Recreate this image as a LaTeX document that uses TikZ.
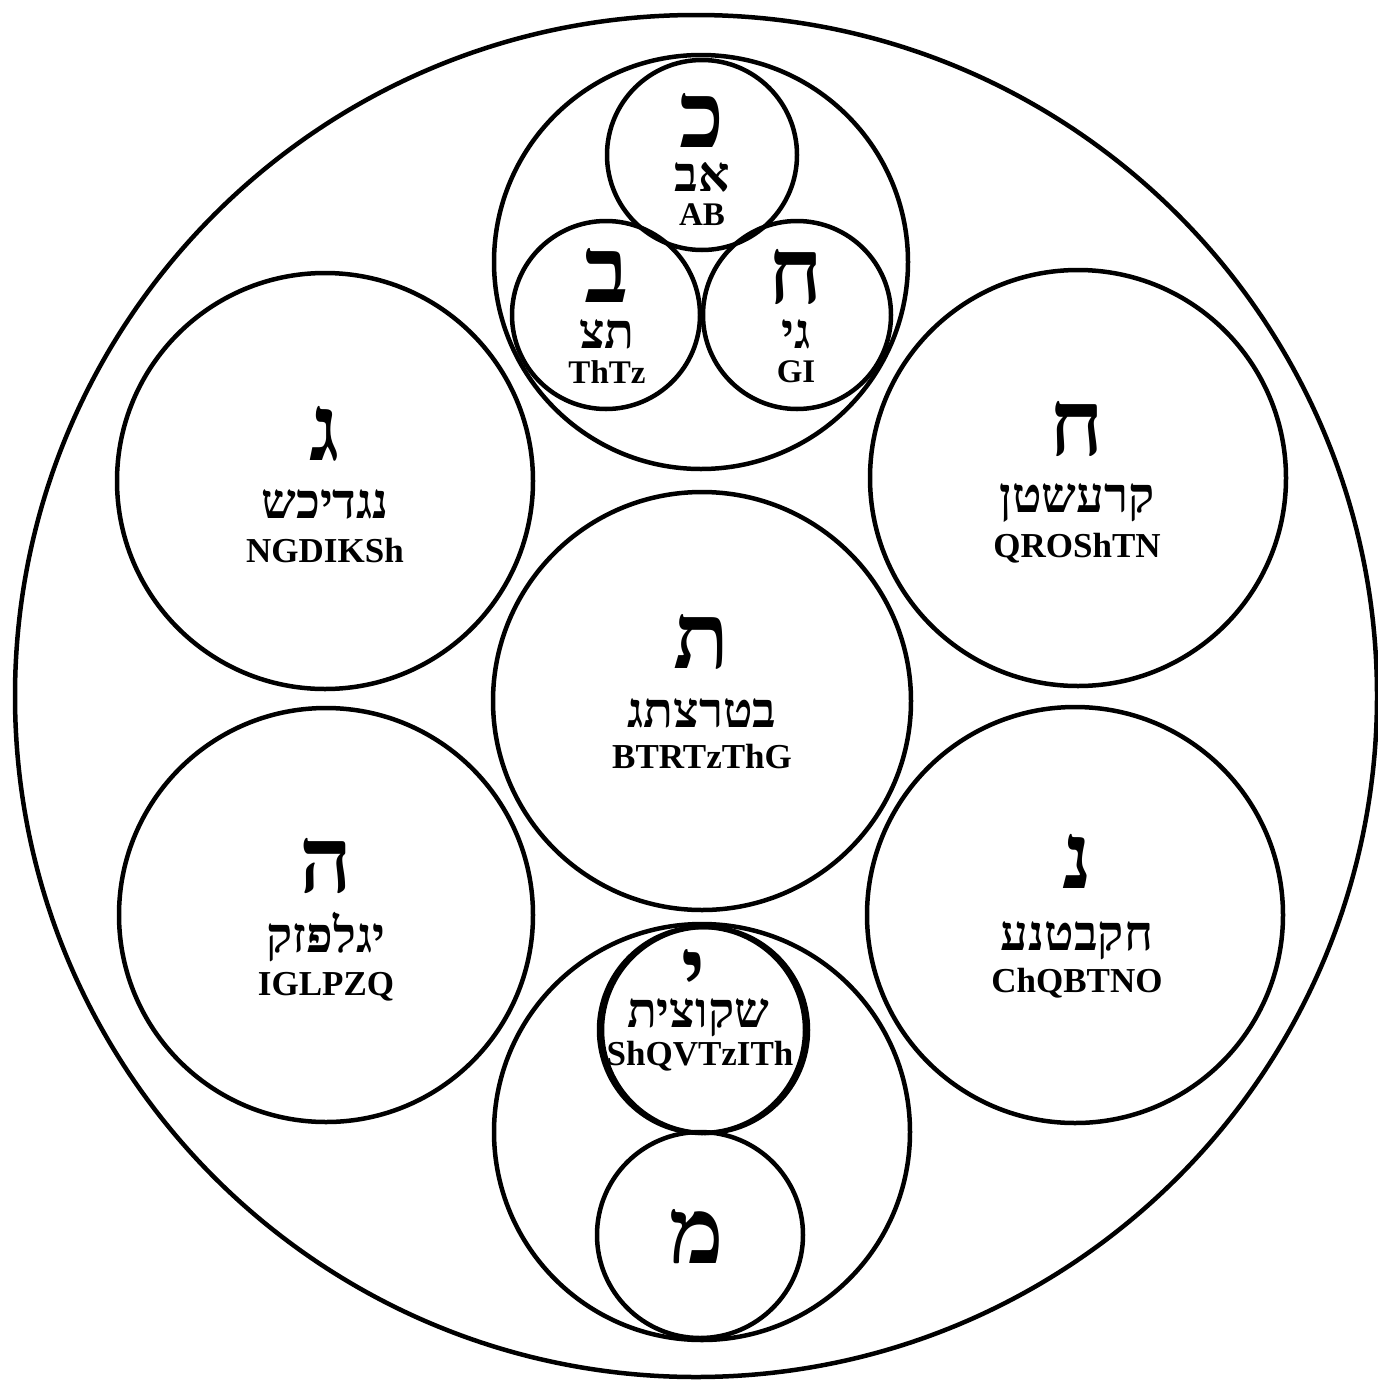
\documentclass[tikz,border=0pt]{standalone}
\usepackage{fontspec}
\setmainfont{Liberation Serif}
\newfontfamily\hebfont[Script=Hebrew]{Liberation Serif}
\TeXXeTstate=1
\begin{document}
\begin{tikzpicture}[x=1pt,y=-1pt,
  ring/.style={circle,draw,line width=4.5pt,inner sep=0pt,minimum size=#1},
  bigletter/.style={anchor=base,inner sep=0pt,text height=60pt,text depth=0pt,font=\hebfont\bfseries\fontsize{92}{92}\selectfont},
  hword/.style={anchor=base,inner sep=0pt,text height=30pt,text depth=2pt,font=\hebfont\bfseries\fontsize{49}{49}\selectfont},
  latin/.style={anchor=base,inner sep=0pt,text height=25pt,text depth=1pt,font=\bfseries\fontsize{35}{35}\selectfont},
  smalllatin/.style={anchor=base,inner sep=0pt,text height=23pt,text depth=1pt,font=\bfseries\fontsize{33}{33}\selectfont}]
\useasboundingbox (0,0) rectangle (1378,1384);
\fill[white] (0,0) rectangle (1378,1384);
% circles
\node[ring=1362] (outer) at (696,696) {};
\node[ring=414] (topgrp) at (701,262) {};
\node[ring=190] (ckaf) at (702,155) {};
\node[ring=188] (cbet) at (606,315) {};
\node[ring=188] (chet) at (797,315) {};
\node[ring=416] (cgimel) at (325,481) {};
\node[ring=416] (cchet) at (1078,478) {};
\node[ring=418] (ctav) at (702,701) {};
\node[ring=414] (che) at (326,915) {};
\node[ring=416] (cnun) at (1075,915) {};
\node[ring=416] (botgrp) at (702,1132) {};
\node[ring=206] (cyod) at (702,1030) {};
\node[ring=206] (cyodb) at (705,1030) {};
\node[ring=206] (cmem) at (700,1235) {};
% top group texts
\node[bigletter] (tkaf) at (702,147) {\beginR כ\endR};
\node[hword] (wab) at (702,191) {\beginR אב\endR};
\node[smalllatin] (lab) at (702,225) {AB};
\node[bigletter] (tbet) at (607,302) {\beginR ב\endR};
\node[hword] (wthtz) at (607,348) {\beginR תצ\endR};
\node[smalllatin] (lthtz) at (607,383) {ThTz};
\node[bigletter] (tchet) at (796,303) {\beginR ח\endR};
\node[hword] (wgi) at (796,348) {\beginR גי\endR};
\node[smalllatin] (lgi) at (796,382) {GI};
% gimel
\node[bigletter] (tgimel) at (325,460) {\beginR ג\endR};
\node[hword] (wgimel) at (325,518) {\beginR נגדיכש\endR};
\node[latin] (lgimel) at (325,562) {NGDIKSh};
% chet right
\node[bigletter] (tchet2) at (1077,455) {\beginR ח\endR};
\node[hword] (wchet2) at (1077,512) {\beginR קרעשטן\endR};
\node[latin] (lchet2) at (1077,557) {QROShTN};
% tav
\node[bigletter] (ttav) at (702,668) {\beginR ת\endR};
\node[hword] (wtav) at (702,727) {\beginR בטרצתג\endR};
\node[latin] (ltav) at (702,768) {BTRTzThG};
% he
\node[bigletter] (the) at (326,892) {\beginR ה\endR};
\node[hword] (whe) at (326,952) {\beginR יגלפזק\endR};
\node[latin] (lhe) at (326,995) {IGLPZQ};
% nun
\node[bigletter] (tnun) at (1077,888) {\beginR נ\endR};
\node[hword] (wnun) at (1077,950) {\beginR חקבטנע\endR};
\node[latin] (lnun) at (1077,992) {ChQBTNO};
% yod
\node[bigletter,text depth=-26pt] (tyod) at (694,1003) {\beginR י\endR};
\node[hword] (wyod) at (698,1027) {\beginR שקוצית\endR};
\node[latin] (lyod) at (700,1065) {ShQVTzITh};
% mem
\node[bigletter] (tmem) at (697,1263) {\beginR מ\endR};
\end{tikzpicture}
\end{document}
